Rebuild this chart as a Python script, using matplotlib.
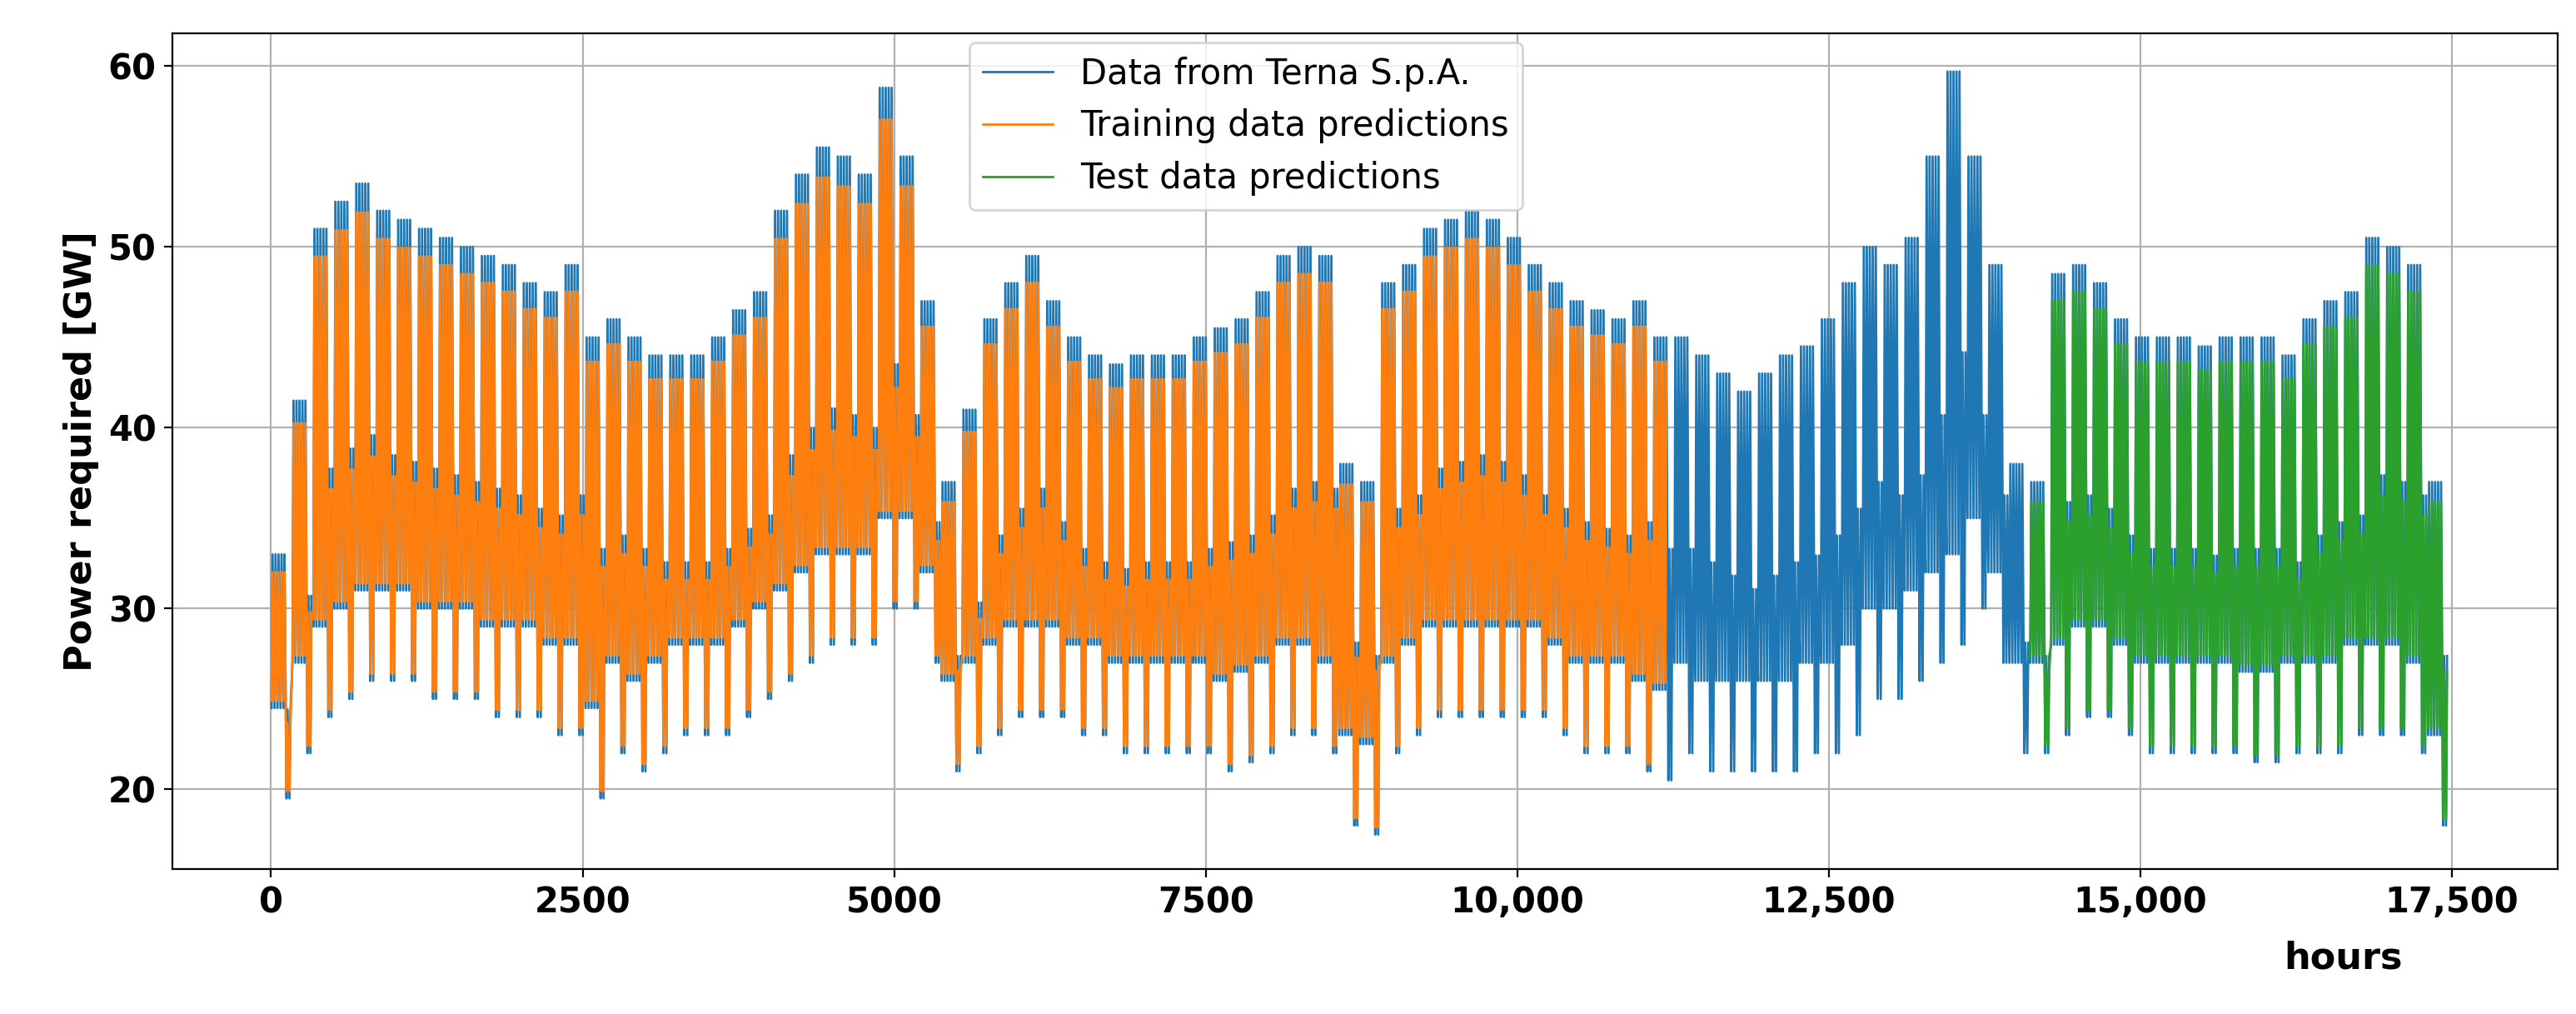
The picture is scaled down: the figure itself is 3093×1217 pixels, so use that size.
import numpy as np
import matplotlib.pyplot as plt

# weekly envelope of the hourly load (GW), one value per week (168 h)
week_peak = [33, 41.5, 51, 52.5, 53.5, 52, 51.5, 51, 50.5, 50, 49.5, 49, 48, 47.5, 49, 45,
             46, 45, 44, 44, 44, 45, 46.5, 47.5, 52, 54, 55.5, 55, 54, 58.8, 55, 47,
             37, 41, 46, 48, 49.5, 47, 45, 44, 43.5, 44, 44, 44, 45, 45.5, 46, 47.5,
             49.5, 50, 49.5, 38, 37, 48, 49, 51, 51.5, 52, 51.5, 50.5, 49, 48, 47, 46.5,
             46, 47, 45, 45, 44, 43, 42, 43, 44, 44.5, 46, 48, 50, 49, 50.5, 55,
             59.7, 55, 49, 38, 37, 48.5, 49, 48, 46, 45, 45, 45, 44.5, 45, 45, 45,
             44, 46, 47, 47.5, 50.5, 50, 49, 37]
week_trough = [19.5, 22, 24, 25, 26, 26, 26, 25, 25, 25, 24, 24, 24, 23, 23, 19.5,
               22, 21, 22, 23, 23, 23, 24, 25, 26, 27, 28, 28, 28, 30, 30, 27,
               21, 22, 23, 24, 24, 24, 23, 23, 22, 22, 22, 22, 22, 21, 21.5, 22,
               23, 23, 22, 18, 17.5, 22, 23, 24, 24, 24, 24, 24, 24, 23, 22, 22,
               22, 21, 20.5, 22, 21, 21, 21, 21, 21, 22, 22, 23, 25, 25, 26, 27,
               28, 30, 27, 22, 22, 23, 24, 24, 23, 22, 22, 22, 22, 22, 21.5, 21.5,
               22, 22, 22, 23, 23, 23, 22, 18]

weekday_night_lift = 5.0   # weekday nights sit above the weekly minimum
weekend_peak_ratio = 0.74
pred_bias = 0.97           # predictions slightly under the measured peaks
train_end = 11200
test_start = 14100

# build series: two vertices per day (night trough, midday peak)
hours, load = [], []
for w, (pk, tr) in enumerate(zip(week_peak, week_trough)):
    for d in range(7):
        h0 = (w * 7 + d) * 24
        weekend = d >= 5
        hours += [h0 + 4, h0 + 12]
        load += [tr if weekend else tr + weekday_night_lift,
                 pk * weekend_peak_ratio if weekend else pk]
hours = np.array(hours)
load = np.array(load)
pred = load.copy()
pred[1::2] = load[1::2] * pred_bias
pred[0::2] = load[0::2] + 0.4

plt.rcParams['font.family'] = 'DejaVu Sans'
fig = plt.figure(figsize=(15.465, 6.085), dpi=200)
ax = fig.add_axes([0.067, 0.143, 0.926, 0.824])

ax.plot(hours, load, color='tab:blue', lw=1, label='Data from Terna S.p.A.')
tr_mask = hours <= train_end
ax.plot(hours[tr_mask], pred[tr_mask], color='tab:orange', lw=1, label='Training data predictions')
te_mask = hours >= test_start
ax.plot(hours[te_mask], pred[te_mask], color='tab:green', lw=1, label='Test data predictions')

ax.set_xlim(-790, 18350)
ax.set_ylim(15.6, 61.8)
ax.set_xticks([0, 2500, 5000, 7500, 10000, 12500, 15000, 17500])
ax.set_xticklabels(['0', '2500', '5000', '7500', '10,000', '12,500', '15,000', '17,500'])
ax.set_yticks([20, 30, 40, 50, 60])
ax.tick_params(labelsize=15)
for t in ax.get_xticklabels() + ax.get_yticklabels():
    t.set_fontweight('bold')
ax.set_ylabel('Power required [GW]', fontsize=16, fontweight='bold')
ax.set_xlabel('hours', fontsize=16, fontweight='bold')
ax.xaxis.set_label_coords(0.91, -0.085)
ax.grid(True)
ax.legend(loc='upper center', bbox_to_anchor=(0.45, 1.01), fontsize=15)
fig.savefig('out.png')
